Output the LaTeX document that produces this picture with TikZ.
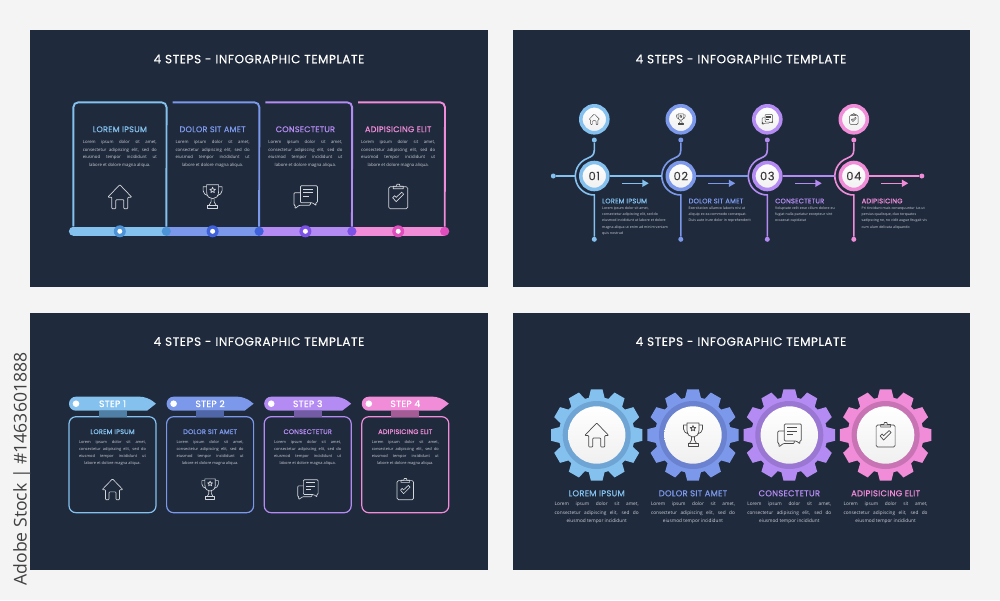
\documentclass[tikz,border=0pt]{standalone}
\usepackage{fontspec}
\setmainfont{Poppins}
\newfontfamily\copyfont{Open Sans}
\newfontfamily\titlefont[LetterSpace=5,FakeBold=.25]{Poppins}
\newfontfamily\headfont[LetterSpace=3,FakeBold=.7]{Poppins}
\usetikzlibrary{positioning,arrows.meta}

\definecolor{pagebg}{HTML}{F4F4F4}
\definecolor{panelbg}{HTML}{1F2A3C}
\definecolor{copyline}{HTML}{CDD1D7}
\definecolor{iconline}{HTML}{D4D7DB}
\definecolor{icondark}{HTML}{4A4A4A}
\definecolor{stepblue}{HTML}{84C1EE}
\definecolor{stepperi}{HTML}{7C98EA}
\definecolor{steppurple}{HTML}{B48BF2}
\definecolor{steppink}{HTML}{F18CD9}
\definecolor{blueknob}{HTML}{4D93D8}
\definecolor{periknob}{HTML}{3F62DC}
\definecolor{purpleknob}{HTML}{7C52E6}
\definecolor{pinkknob}{HTML}{E04DBC}
\definecolor{bluetab}{HTML}{4F7FA5}
\definecolor{peritab}{HTML}{4F66A8}
\definecolor{purpletab}{HTML}{735BA6}
\definecolor{pinktab}{HTML}{A55B95}
\definecolor{bluecog}{HTML}{6EA5D4}
\definecolor{pericog}{HTML}{6A82CF}
\definecolor{purplecog}{HTML}{9A77D2}
\definecolor{pinkcog}{HTML}{C873B4}

\tikzset{
  pagetitle/.style={inner sep=0, text=white, font=\titlefont\fontsize{12}{14}\selectfont},
  stephead/.style={inner sep=0, font=\headfont\fontsize{8.1}{9}\selectfont},
  copytext/.style={inner sep=0, align=center, text=copyline, font=\copyfont\fontsize{4.3}{7.5}\selectfont},
  barseg/.style={inner sep=0, minimum width=93pt, minimum height=9.2pt},
  knob/.style={circle, inner sep=0, minimum size=#1},
  knob/.default=9.2pt,
  framepath/.style={line width=1.9pt, rounded corners=5pt},
  wire/.style={line width=1.6pt},
  disc/.style={circle, inner sep=0, top color=white, bottom color=gray!12},
  cardbox/.style={rectangle, inner sep=0, rounded corners=7pt, line width=1.2pt, minimum width=87pt, minimum height=96pt},
  icon/.style={line width=#1, line join=round},
  pics/house/.style={code={
    \draw [rounded corners=.8pt] (-8,12) -- (-8,.5) -- (-12,.5) -- (0,-12) -- (12,.5) -- (8,.5) -- (8,12) -- (4,12) -- (4,3) -- (-4,3) -- (-4,12) -- cycle;
  }},
  pics/trophy/.style={code={
    \draw (-6,-12) -- (6,-12) -- (6,-5) .. controls (6,0) and (3,2) .. (0,2) .. controls (-3,2) and (-6,0) .. (-6,-5) -- cycle;
    \draw (-6,-10) -- (-9.5,-10) -- (-9.5,-6) .. controls (-9.5,-3) and (-7,-2) .. (-4.6,-1);
    \draw (6,-10) -- (9.5,-10) -- (9.5,-6) .. controls (9.5,-3) and (7,-2) .. (4.6,-1);
    \draw (-1.5,2) -- (-1.5,5) -- (-3.5,8.5) (1.5,2) -- (1.5,5) -- (3.5,8.5);
    \draw (-5,8.5) rectangle (5,11.5);
    \draw (0,-9.5) -- (.76,-7.55) -- (2.85,-7.43) -- (1.24,-6.1) -- (1.76,-4.07) -- (0,-5.2) -- (-1.76,-4.07) -- (-1.24,-6.1) -- (-2.85,-7.43) -- (-.76,-7.55) -- cycle;
  }},
  pics/chat/.style={code={
    \draw [rounded corners=1pt] (-5,-5) -- (-5,-11) -- (12,-11) -- (12,6) -- (10,6) -- (11,9) -- (7,6) -- (-5,6) -- (-5,-5);
    \draw [rounded corners=1pt] (-5,-4) -- (-11.5,-4) -- (-11.5,8.5) -- (-10,8.5) -- (-10.5,12) -- (-6,8.5) -- (5,8.5) -- (5,6);
    \draw (-2,-7.5) -- (8,-7.5) (-2,-4) -- (8,-4) (-2,-.5) -- (4,-.5);
  }},
  pics/clipboard/.style={code={
    \draw [rounded corners=1.5pt] (-9.5,-10) rectangle (9.5,12);
    \draw (-5,-8) -- (-5,-10.5) -- (-1.8,-10.5) -- (-1.2,-12.5) -- (1.2,-12.5) -- (1.8,-10.5) -- (5,-10.5) -- (5,-8) -- cycle;
    \draw (-5.5,1) -- (-3.5,-1) -- (-2,.7) -- (3.5,-4.5) -- (5.5,-2.5) -- (-2,5) -- cycle;
  }},
}

\newcommand{\fitline}[2]{\makebox[#1][s]{#2}}
\newcommand{\loremfour}[1]{\fitline{#1}{Lorem ipsum dolor sit amet,}\\\fitline{#1}{consectetur adipiscing elit, sed do}\\\fitline{#1}{eiusmod tempor incididunt ut}\\labore et dolore magna aliqua.}
\newcommand{\loremthree}[1]{\fitline{#1}{Lorem ipsum dolor sit amet,}\\\fitline{#1}{consectetur adipiscing elit, sed do}\\eiusmod tempor incididunt}

% top left panel, one card on the bar
\newcommand{\framestep}[6]{%
  \node (#1ring) [knob=12pt, fill=#3, at={(#1bar)}] {};
  \node (#1pin) [knob=5pt, fill=white, at={(#1bar)}] {};
  \node (#1join) [knob, fill=#3, right of=#1bar, node distance=46.5pt] {};
  \draw [framepath, #2, shift={(#1bar)}] #6 -- (46.8,-129) -- (#1join);
  \node (#1head) [stephead, text=#2, above of=#1bar, node distance=102pt] {#4};
  \node (#1body) [copytext, below of=#1head, node distance=24.4pt] {\loremfour{74pt}};
  \coordinate [below of=#1head, node distance=67.4pt] (#1mark);
  \pic [color=iconline, icon=.7pt] at (#1mark) {#5};
}

% top right panel, one station on the line
\newcommand{\timestep}[7]{%
  \node (#1main) [disc, minimum size=27pt, draw=#3, line width=3.6pt, #2] {};
  \node (#1num) [inner sep=0, text=icondark!80!black, font=\titlefont\fontsize{11.5}{13}\selectfont, at={(#1main)}] {#4};
  \node (#1top) [disc, minimum size=27pt, draw=#3, line width=3.6pt, above of=#1main, node distance=56.7pt] {};
  \pic [color=icondark, icon=.45pt, scale=.45] at (#1top) {#7};
  \node (#1pin) [knob=5pt, fill=#3, above of=#1main, node distance=36pt] {};
  \node (#1foot) [knob=5pt, fill=#3, below of=#1main, node distance=63.3pt] {};
  \coordinate [left of=#1main, node distance=19pt] (#1left);
  \draw [wire, #3, shift={(#1main)}] (#1pin) -- (0,-26) .. controls (0,-20.5) and (-3,-19.5) .. (-6.5,-17.85) arc [start angle=250, end angle=90, radius=19] -- (#1foot);
  \coordinate [right of=#1main, node distance=27.5pt, yshift=-7.3pt] (#1from);
  \coordinate [right of=#1main, node distance=54.5pt, yshift=-7.3pt] (#1to);
  \draw [-{Triangle[length=6.5pt,width=7pt]}, line width=1.4pt, #3] (#1from) -- (#1to);
  \coordinate [below of=#1main, node distance=25pt] (#1corner);
  \node (#1head) [stephead, text=#3, right=7.7pt of #1corner, font=\headfont\fontsize{6.7}{8}\selectfont] {#5};
  \node (#1body) [copytext, align=left, below=3pt of #1head.south west, anchor=north west, font=\copyfont\fontsize{3.55}{6.25}\selectfont] {#6};
}

% bottom left panel, one tagged card
\newcommand{\tagstep}[7]{%
  \node (#1box) [cardbox, draw=#3, #2] {};
  \coordinate [above of=#1box, node distance=61pt] (#1mid);
  \fill [#3, shift={(#1mid)}, rounded corners=6.9pt] (34.5,-7) [sharp corners] -- (43.5,0) -- (34.5,7) [rounded corners=6.9pt] -- (-43.5,7) -- (-43.5,-7) -- cycle;
  \node (#1tag) [inner sep=0, text=white, font=\headfont\fontsize{9.2}{10}\selectfont, at={(#1mid)}] {#5};
  \node (#1dot) [knob=6.6pt, fill=white, left of=#1mid, node distance=36.5pt] {};
  \node (#1tab) [inner sep=0, minimum width=28pt, minimum height=6pt, fill=#4, above of=#1box, node distance=51pt] {};
  \node (#1head) [stephead, text=#3, font=\headfont\fontsize{6.6}{8}\selectfont, above of=#1box, node distance=33pt] {#6};
  \node (#1body) [copytext, below of=#1head, node distance=21.5pt, font=\copyfont\fontsize{3.95}{7}\selectfont] {\loremfour{67pt}};
  \coordinate [below of=#1box, node distance=24.6pt] (#1mark);
  \pic [color=iconline, icon=.65pt, scale=.87] at (#1mark) {#7};
}

% bottom right panel, one gear wheel
\newcommand{\cogtooth}[2]{\fill [shift={(#1)}, rotate=#2] (-8.2,-36) -- (-5.8,-45.7) -- (5.8,-45.7) -- (8.2,-36) -- cycle;}
\newcommand{\cogstep}[6]{%
  \coordinate [#2] (#1hub);
  \begin{scope}[color=#3]
    \cogtooth{#1hub}{0}\cogtooth{#1hub}{30}\cogtooth{#1hub}{60}\cogtooth{#1hub}{90}
    \cogtooth{#1hub}{120}\cogtooth{#1hub}{150}\cogtooth{#1hub}{180}\cogtooth{#1hub}{210}
    \cogtooth{#1hub}{240}\cogtooth{#1hub}{270}\cogtooth{#1hub}{300}\cogtooth{#1hub}{330}
    \fill (#1hub) circle [radius=38];
  \end{scope}
  \fill [#4] (#1hub) circle [radius=34];
  \node (#1disc) [disc, minimum size=57.4pt, at={(#1hub)}] {};
  \pic [color=icondark, icon=.7pt] at (#1hub) {#6};
  \node (#1head) [stephead, text=#3, below of=#1hub, node distance=58.3pt, font=\headfont\fontsize{8.4}{9}\selectfont] {#5};
  \node (#1body) [copytext, below of=#1head, node distance=19.7pt, font=\copyfont\fontsize{4.75}{8.5}\selectfont] {\loremthree{84pt}};
}

\begin{document}
\begin{tikzpicture}[x=1pt, y=-1pt]
  \useasboundingbox (0,0) rectangle (1000,600);
  \fill [pagebg] (0,0) rectangle (1000,600);
  \fill [panelbg] (30,30) rectangle (488,287);
  \fill [panelbg] (513,30) rectangle (970,287);
  \fill [panelbg] (30,313) rectangle (488,570);
  \fill [panelbg] (513,313) rectangle (970,570);

  \node (stockid) [inner sep=0, rotate=90, text=black!75, font=\copyfont\fontsize{17.6}{19}\selectfont] at (22,469) {Adobe Stock | \#1463601888};

  \node (titlea) [pagetitle] at (259,59) {4 STEPS - INFOGRAPHIC TEMPLATE};
  \node (titleb) [pagetitle, right of=titlea, node distance=482pt] {4 STEPS - INFOGRAPHIC TEMPLATE};
  \node (titlec) [pagetitle, below of=titlea, node distance=282.5pt] {4 STEPS - INFOGRAPHIC TEMPLATE};
  \node (titled) [pagetitle, right of=titlec, node distance=482pt] {4 STEPS - INFOGRAPHIC TEMPLATE};

  % cards on the bar
  \node (barcap) [knob, fill=stepblue] at (73.5,231.3) {};
  \node (fabar) [barseg, fill=stepblue] at (119.8,231.3) {};
  \node (fbbar) [barseg, fill=stepperi, right of=fabar, node distance=92.8pt] {};
  \node (fcbar) [barseg, fill=steppurple, right of=fbbar, node distance=92.8pt] {};
  \node (fdbar) [barseg, fill=steppink, right of=fcbar, node distance=92.8pt] {};
  \framestep{fa}{stepblue}{blueknob}{LOREM IPSUM}{house}{(-46.5,-5) -- (-46.5,-129)}
  \framestep{fb}{stepperi}{periknob}{DOLOR SIT AMET}{trophy}{(-40,-129)}
  \framestep{fc}{steppurple}{purpleknob}{CONSECTETUR}{chat}{(-40,-129)}
  \framestep{fd}{steppink}{pinkknob}{ADIPISICING ELIT}{clipboard}{(-40,-129)}

  % stations on the line
  \timestep{ta}{at={(594.3,176)}}{stepblue}{01}{LOREM IPSUM}{Lorem ipsum dolor sit amet,\\consectetur adipiscing elit, sed do\\eiusmod incididunt ut labore et dolore\\magna aliqua ut enim ad minim veniam\\quis nostrud}{house}
  \timestep{tb}{right of=tamain, node distance=86.5pt}{stepperi}{02}{DOLOR SIT AMET}{Exercitation ullamco laboris nisi ut\\aliquip ex ea commodo consequat.\\Duis aute irure dolor in reprehenderit}{trophy}
  \timestep{tc}{right of=tbmain, node distance=86.5pt}{steppurple}{03}{CONSECTETUR}{Voluptate velit esse cillum dolore eu\\fugiat nulla pariatur excepteur sint\\occaecat cupidatat}{chat}
  \timestep{td}{right of=tcmain, node distance=86.5pt}{steppink}{04}{ADIPISICING}{Pri tincidunt mais consequuntur ius ut\\persius qualisque, duo torquatos\\sadipscing ne, no vidit augue feugait vis\\cum ulum delicata aliquando}{clipboard}
  \node (linestart) [knob=5pt, fill=stepblue, left of=tamain, node distance=41pt] {};
  \node (lineend) [knob=5pt, fill=steppink, right of=tdmain, node distance=68pt] {};
  \draw [wire, stepblue] (linestart) -- (taleft);
  \draw [wire, stepblue] (tamain.east) -- (tbleft);
  \draw [wire, stepperi] (tbmain.east) -- (tcleft);
  \draw [wire, steppurple] (tcmain.east) -- (tdleft);
  \draw [wire, steppink] (tdmain.east) -- (lineend);

  % tagged cards
  \tagstep{ca}{at={(112.5,464.7)}}{stepblue}{bluetab}{STEP 1}{LOREM IPSUM}{house}
  \tagstep{cb}{right of=cabox, node distance=97.6pt}{stepperi}{peritab}{STEP 2}{DOLOR SIT AMET}{trophy}
  \tagstep{cc}{right of=cbbox, node distance=97.6pt}{steppurple}{purpletab}{STEP 3}{CONSECTETUR}{chat}
  \tagstep{cd}{right of=ccbox, node distance=97.6pt}{steppink}{pinktab}{STEP 4}{ADIPISICING ELIT}{clipboard}

  % gear wheels
  \cogstep{ga}{at={(596.7,435)}}{stepblue}{bluecog}{LOREM IPSUM}{house}
  \cogstep{gb}{right of=gahub, node distance=96.3pt}{stepperi}{pericog}{DOLOR SIT AMET}{trophy}
  \cogstep{gc}{right of=gbhub, node distance=96.3pt}{steppurple}{purplecog}{CONSECTETUR}{chat}
  \cogstep{gd}{right of=gchub, node distance=96.3pt}{steppink}{pinkcog}{ADIPISICING ELIT}{clipboard}
\end{tikzpicture}
\end{document}
